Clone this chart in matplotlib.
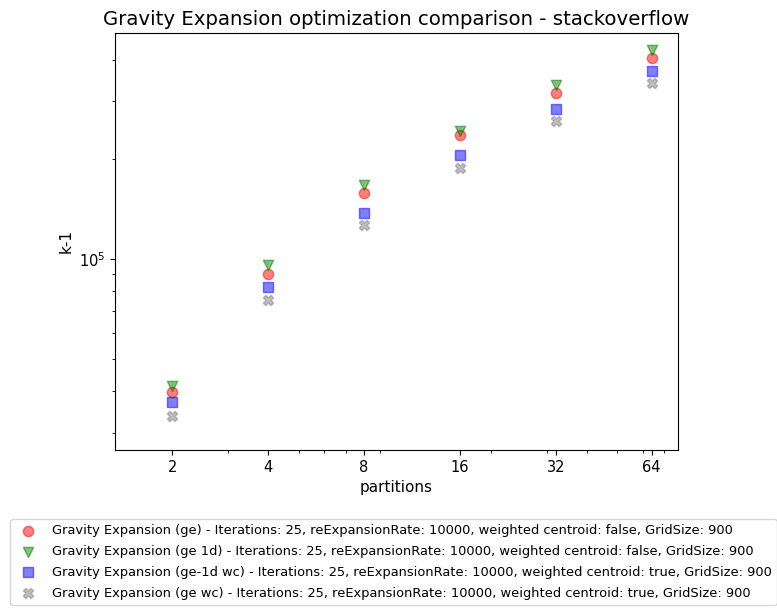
import matplotlib
matplotlib.use("Agg")
import matplotlib.pyplot as plt
from matplotlib.ticker import NullFormatter

partitions = [2, 4, 8, 16, 32, 64]

ge = [39700, 90100, 158000, 237000, 317000, 404000]
ge_1d = [41600, 95900, 167000, 244000, 335000, 426000]
ge_1d_wc = [37000, 82200, 138000, 206000, 284000, 369000]
ge_wc = [33600, 75300, 126500, 189000, 261000, 340000]

labels = [
    "Gravity Expansion (ge) - Iterations: 25, reExpansionRate: 10000, weighted centroid: false, GridSize: 900",
    "Gravity Expansion (ge 1d) - Iterations: 25, reExpansionRate: 10000, weighted centroid: false, GridSize: 900",
    "Gravity Expansion (ge-1d wc) - Iterations: 25, reExpansionRate: 10000, weighted centroid: true, GridSize: 900",
    "Gravity Expansion (ge wc) - Iterations: 25, reExpansionRate: 10000, weighted centroid: true, GridSize: 900",
]

fig = plt.figure(figsize=(7.77, 6.10), dpi=100)
ax = fig.add_axes([0.148, 0.2623, 0.7246, 0.6836])

series = [
    (ge, "red", "o"),
    (ge_1d, "green", "v"),
    (ge_1d_wc, "blue", "s"),
    (ge_wc, "gray", "X"),
]
for (vals, color, marker), label in zip(series, labels):
    ax.scatter(partitions, vals, c=color, marker=marker, alpha=0.5, s=55, label=label)

ax.set_xscale("log")
ax.set_yscale("log")
ax.set_xlim(1.32, 77.5)
ax.set_ylim(2.66e4, 4.81e5)
ax.set_xticks(partitions)
ax.set_xticklabels([str(p) for p in partitions])
ax.xaxis.set_minor_formatter(NullFormatter())
ax.tick_params(labelsize=10.5)

ax.set_xlabel("partitions", fontsize=11)
ax.set_ylabel("k-1", fontsize=11)
ax.set_title("Gravity Expansion optimization comparison - stackoverflow", fontsize=14.2)

fig.legend(loc="upper left", bbox_to_anchor=(10 / 777, 1 - 519 / 610),
           borderaxespad=0, scatterpoints=1, fontsize=9.4, labelspacing=0.6)

fig.savefig("out.png", dpi=100)
